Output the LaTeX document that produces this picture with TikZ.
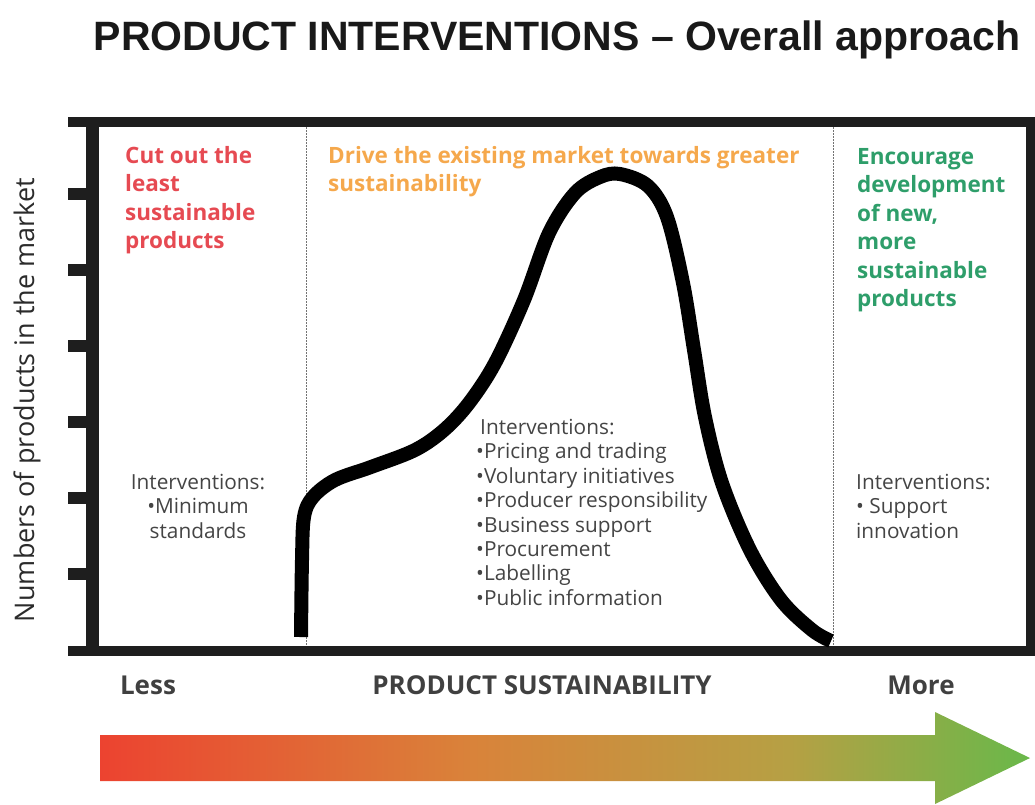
\documentclass[tikz,border=0pt]{standalone}
\usepackage{fontspec}
\setmainfont{Open Sans}
\newfontfamily\titlefont{Liberation Sans}
\usepackage{xcolor}
\usetikzlibrary{positioning,calc}
\definecolor{piframe}{HTML}{1E1E1E}
\definecolor{pired}{HTML}{E64A52}
\definecolor{piorange}{HTML}{F5A84C}
\definecolor{pigreen}{HTML}{2E9E6A}
\definecolor{pigray}{HTML}{444444}
\definecolor{pidark}{HTML}{2B2B2B}
\definecolor{arrred}{HTML}{EC4330}
\definecolor{arrorange}{HTML}{D9833A}
\definecolor{arrolive}{HTML}{B6A044}
\definecolor{arrgreen}{HTML}{69B84A}
\pgfdeclarehorizontalshading{sustshade}{100bp}{color(0bp)=(arrred); color(25bp)=(arrred); color(45bp)=(arrorange); color(62bp)=(arrolive); color(75bp)=(arrgreen); color(100bp)=(arrgreen)}

\begin{document}
\begin{tikzpicture}[x=1pt, y=-1pt,
  frameline/.style={draw=piframe, line width=10pt},
  tickmark/.style={draw=piframe, line width=12pt},
  divider/.style={draw=black!55, line width=1pt, dash pattern=on 1.5pt off 1.5pt},
  market/.style={draw=black, line width=14pt, line cap=butt},
  head/.style={inner sep=0pt, anchor=north west, align=left, font=\bfseries\fontsize{22.5}{28.5}\selectfont},
  interv/.style={inner sep=0pt, text=pigray, font=\fontsize{20.8}{24.4}\selectfont},
  axislbl/.style={inner sep=0pt, anchor=base, text=black!75, font=\bfseries\fontsize{26}{29}\selectfont}
]
\useasboundingbox (0,0) rectangle (1035,804);

% title
\node[inner sep=0pt, anchor=base, text=black!90, font=\titlefont\bfseries\fontsize{41}{45}\selectfont] (title) at (557,50) {PRODUCT INTERVENTIONS – Overall approach};

% frame and ticks
\coordinate (tl) at (91,122);
\coordinate (br) at (1031,651);
\draw[frameline] (tl) rectangle (br);
\draw[piframe, line width=13pt] (92,118) -- (92,655);
\foreach \ty in {194,270,...,574} \draw[tickmark] (68,\ty) -- (92,\ty);
\foreach \ty in {122,651} \draw[frameline] (68,\ty) -- (92,\ty);

% section dividers
\coordinate (d1top) at (306,127);
\coordinate (d1bot) at (306,646);
\coordinate (d2top) at (833,127);
\coordinate (d2bot) at (833,646);
\draw[divider] (d1top) -- (d1bot);
\draw[divider] (d2top) -- (d2bot);

% market curve
\draw[market] plot[smooth, tension=0.55] coordinates {(301,637) (302,560) (304,517) (313,497) (335,480) (371,467) (415,450) (444,430) (469,403) (495,363) (524,300) (549,233) (575,193) (600,177) (620,174) (648,186) (667,217) (683,283) (694,350) (705,417) (722,483) (750,550) (781,600) (812,630) (831,641)};

% section headings
\node[head, text=pired] (cutout) at (125,146) {Cut out the\\least\\sustainable\\products};
\node[head, text=piorange] (drive) at (328,146) {Drive the existing market towards greater\\sustainability};
\node[head, text=pigreen] (encourage) at (857,148) {Encourage\\development\\of new,\\more\\sustainable\\products};

% interventions
\node[interv, anchor=north, align=center] (intleft) at (198,474) {Interventions:\\•Minimum\\standards};
\node[interv, anchor=north west, align=left] (intmid) at (476,419) {\hspace{4pt}Interventions:\\•Pricing and trading\\•Voluntary initiatives\\•Producer responsibility\\•Business support\\•Procurement\\•Labelling\\•Public information};
\node[interv, anchor=north west, align=left] (intright) at (856,474) {Interventions:\\• Support\\innovation};

% axes
\node[inner sep=0pt, rotate=90, text=pidark, font=\fontsize{27}{30}\selectfont] (ylabel) at (27,400) {Numbers of products in the market};
\node[axislbl] (less) at (148,694) {Less};
\node[axislbl] (sust) at (542,694) {PRODUCT SUSTAINABILITY};
\node[axislbl] (more) at (921,694) {More};

% sustainability arrow
\shade[shading=sustshade] (100,735) -- (935,735) -- (935,712) -- (1030,758) -- (935,804) -- (935,781) -- (100,781) -- cycle;
\end{tikzpicture}
\end{document}
